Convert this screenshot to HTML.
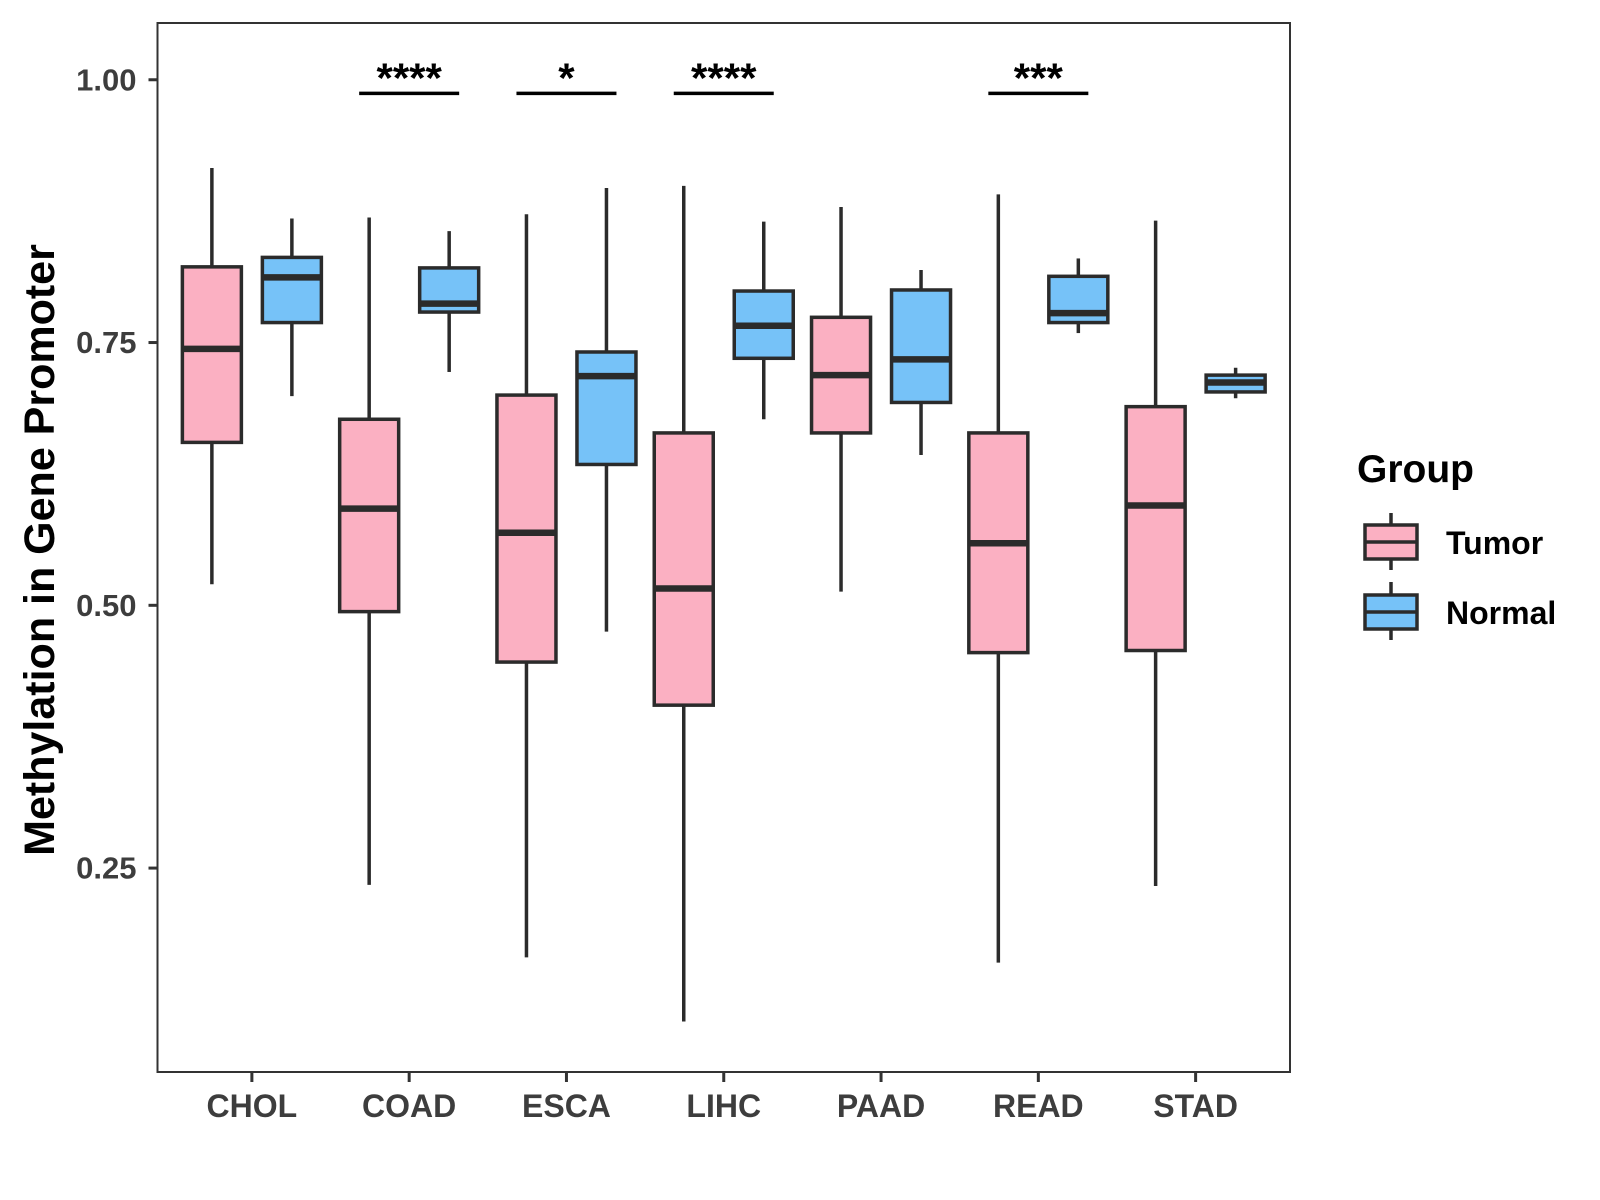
<!DOCTYPE html>
<html><head><meta charset="utf-8"><style>
html,body{margin:0;padding:0;background:#fff;}
svg{display:block;font-family:"Liberation Sans",Arial,sans-serif;}
</style></head><body>
<svg id="chart" width="1600" height="1200" viewBox="0 0 1600 1200">
<rect x="0" y="0" width="1600" height="1200" fill="#fff"/>
<g id="plot"></g>
<text x="40" y="550" transform="rotate(-90 40 550)" text-anchor="middle" dominant-baseline="central" font-size="43" font-weight="bold" fill="#000">Methylation in Gene Promoter</text>
<g>
<text x="1357" y="482" font-size="39" font-weight="bold" fill="#000">Group</text>
<g>
<line x1="1391" y1="513" x2="1391" y2="570" stroke="#2b2b2b" stroke-width="3.5"/>
<rect x="1365" y="525" width="52" height="34" fill="#FBB0C2" stroke="#2b2b2b" stroke-width="3.5"/>
<line x1="1365" y1="542" x2="1417" y2="542" stroke="#2b2b2b" stroke-width="3.5"/>
<text x="1446" y="554" font-size="32" font-weight="bold" fill="#000">Tumor</text>
</g>
<g>
<line x1="1391" y1="582" x2="1391" y2="640" stroke="#2b2b2b" stroke-width="3.5"/>
<rect x="1365" y="595" width="52" height="34" fill="#76C2F8" stroke="#2b2b2b" stroke-width="3.5"/>
<line x1="1365" y1="612" x2="1417" y2="612" stroke="#2b2b2b" stroke-width="3.5"/>
<text x="1446" y="624" font-size="32" font-weight="bold" fill="#000">Normal</text>
</g>
</g>
</svg>
<script>
const categories = ["CHOL","COAD","ESCA","LIHC","PAAD","READ","STAD"];
// [lowerWhisker, q1, median, q3, upperWhisker]
const tumorStats = [
 [0.520,0.655,0.744,0.822,0.916],
 [0.234,0.494,0.592,0.677,0.869],
 [0.165,0.446,0.569,0.700,0.872],
 [0.104,0.405,0.516,0.664,0.899],
 [0.513,0.664,0.719,0.774,0.879],
 [0.160,0.455,0.559,0.664,0.891],
 [0.233,0.457,0.595,0.689,0.866]
];
const normalStats = [
 [0.699,0.769,0.812,0.831,0.868],
 [0.722,0.779,0.787,0.821,0.856],
 [0.475,0.634,0.718,0.741,0.897],
 [0.677,0.735,0.766,0.799,0.865],
 [0.643,0.693,0.734,0.800,0.819],
 [0.759,0.769,0.778,0.813,0.830],
 [0.697,0.703,0.712,0.719,0.726]
];
const yTicks = [0.25,0.50,0.75,1.00];
const yTickLabels = ["0.25","0.50","0.75","1.00"];
const sigLabels = ["","****","*","****","","***",""];
const sigLevel = 0.987;

const NS="http://www.w3.org/2000/svg";
const L=157.5,R=1290,T=23,B=1072;
const yMin=0.056,yMax=1.054;
function y(v){return B-(v-yMin)/(yMax-yMin)*(B-T);}
function xc(i){return L+(R-L)/(categories.length+0.2)*(0.6+i);}
const dodge=40,bw=59,stroke="#2b2b2b";
const g=document.getElementById('plot');
function el(tag,attrs,parent){const e=document.createElementNS(NS,tag);for(const k in attrs)e.setAttribute(k,attrs[k]);(parent||g).appendChild(e);return e;}

const panel=el('rect',{x:L,y:T,width:R-L,height:B-T,fill:'none',stroke:'#333',"stroke-width":2});



yTicks.forEach((v,i)=>{
 const t=el('line',{x1:L-9,x2:L,y1:y(v),y2:y(v),stroke:'#333',"stroke-width":3});
 
 
 const tx=el('text',{x:L-21,y:y(v),"text-anchor":"end","dominant-baseline":"central","font-size":31,"font-weight":"bold",fill:'#3d3d3d'});
 tx.textContent=yTickLabels[i];
 
 
});
categories.forEach((c,i)=>{
 const t=el('line',{x1:xc(i),x2:xc(i),y1:B,y2:B+10,stroke:'#333',"stroke-width":3});
 
 
 const tx=el('text',{x:xc(i),y:1117,"text-anchor":"middle","font-size":32,"font-weight":"bold",fill:'#3d3d3d'});
 tx.textContent=c;
 
 
});

function drawBox(s,cx,fill,name){
 const grp=el('g',{});
 
 
 el('line',{x1:cx,x2:cx,y1:y(s[4]),y2:y(s[3]),stroke:stroke,"stroke-width":3.5},grp);
 el('line',{x1:cx,x2:cx,y1:y(s[1]),y2:y(s[0]),stroke:stroke,"stroke-width":3.5},grp);
 el('rect',{x:cx-bw/2,y:y(s[3]),width:bw,height:y(s[1])-y(s[3]),fill:fill,stroke:stroke,"stroke-width":3.5},grp);
 el('line',{x1:cx-bw/2,x2:cx+bw/2,y1:y(s[2]),y2:y(s[2]),stroke:stroke,"stroke-width":6.5},grp);
}
categories.forEach((c,i)=>{
 drawBox(tumorStats[i],xc(i)-dodge,'#FBB0C2','box-tumor-'+c.toLowerCase());
 drawBox(normalStats[i],xc(i)+dodge,'#76C2F8','box-normal-'+c.toLowerCase());
 if(sigLabels[i]){
  const l=el('line',{x1:xc(i)-dodge-10,x2:xc(i)+dodge+10,y1:y(sigLevel),y2:y(sigLevel),stroke:'#000',"stroke-width":3.5});
  
  
  const tx=el('text',{x:xc(i),y:y(sigLevel)-1,"text-anchor":"middle","font-size":42,"font-weight":"bold",fill:'#000'});
  tx.textContent=sigLabels[i];
  
  
 }
});
</script>
</body></html>
